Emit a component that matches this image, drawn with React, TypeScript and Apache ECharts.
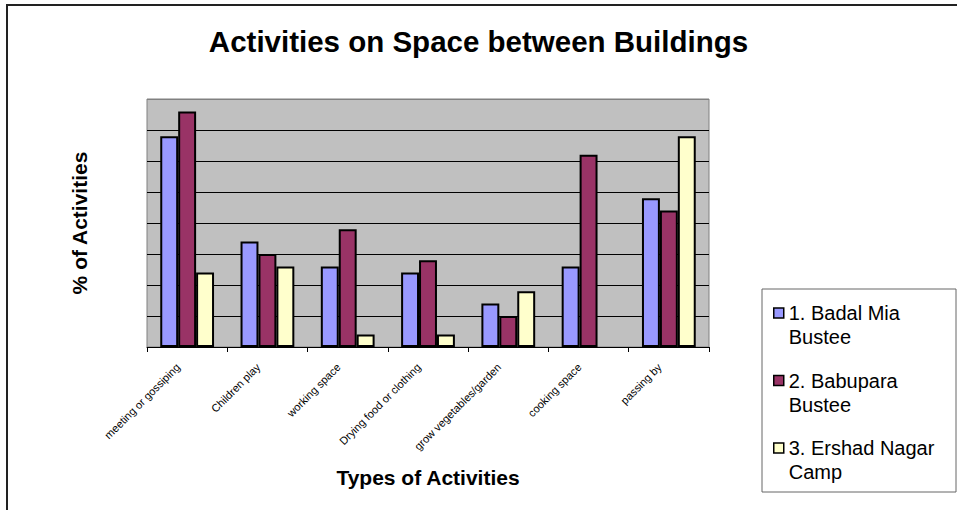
import React, { useEffect, useRef } from "react";
import * as echarts from "echarts";

const categories = [
  "meeting or gossiping",
  "Children play",
  "working space",
  "Drying food or clothing",
  "grow vegetables/garden",
  "cooking space",
  "passing by",
];
const seriesNames = ["1. Badal Mia Bustee", "2. Babupara Bustee", "3. Ershad Nagar Camp"];
const badalMia = [34, 17, 13, 12, 7, 13, 24];
const babupara = [38, 15, 19, 14, 5, 31, 22];
const ershadNagar = [12, 13, 2, 2, 9, 0, 34];
const seriesColors = ["#9999FF", "#993366", "#FFFFCC"];

const FONT = '"Liberation Sans", Arial, sans-serif';

export default function App() {
  const ref = useRef<HTMLDivElement>(null);
  useEffect(() => {
    if (!ref.current) return;
    const chart = echarts.init(ref.current, undefined, { renderer: "svg" });
    const values = [badalMia, babupara, ershadNagar];
    chart.setOption({
      animation: false,
      backgroundColor: "#ffffff",
      textStyle: { fontFamily: FONT },
      title: {
        text: "Activities on Space between Buildings",
        left: "center",
        top: 26,
        padding: 0,
        textStyle: { fontFamily: FONT, fontSize: 29.5, fontWeight: "bold", color: "#000" },
      },
      grid: {
        left: 147,
        top: 99,
        right: 248,
        bottom: 163,
        show: true,
        backgroundColor: "#C0C0C0",
        borderColor: "#808080",
        borderWidth: 1,
      },
      legend: {
        orient: "vertical",
        left: 773,
        top: 277,
        padding: 0,
        itemWidth: 10,
        itemHeight: 10,
        itemGap: -4.5,
        icon: "rect",
        selectedMode: false,
        itemStyle: { borderColor: "#000", borderWidth: 1.5 },
        formatter: (name: string) => "\n" + name.replace(/ (\S+)$/, "\n$1"),
        textStyle: {
          fontFamily: FONT,
          fontSize: 20,
          lineHeight: 24,
          color: "#000",
        },
        z: 5,
      },
      xAxis: {
        type: "category",
        data: categories,
        name: "Types of Activities",
        nameLocation: "middle",
        nameGap: 120,
        nameTextStyle: { fontFamily: FONT, fontSize: 21, fontWeight: "bold", color: "#000" },
        axisLine: { lineStyle: { color: "#000", width: 1 } },
        axisTick: { show: true, length: 5, lineStyle: { color: "#000" } },
        axisLabel: {
          rotate: 45,
          interval: 0,
          margin: 9,
          padding: [0, 13, 0, 0],
          fontSize: 11,
          fontFamily: FONT,
          color: "#000",
        },
      },
      yAxis: {
        type: "value",
        min: 0,
        max: 40,
        interval: 5,
        name: "% of Activities",
        nameLocation: "middle",
        nameRotate: 90,
        nameGap: 57,
        nameTextStyle: { fontFamily: FONT, fontSize: 21, fontWeight: "bold", color: "#000" },
        axisLine: { show: false },
        axisTick: { show: false },
        axisLabel: { show: false },
        splitLine: {
          show: true,
          lineStyle: {
            color: ["#000", "#000", "#000", "#000", "#000", "#000", "#000", "#000", "#808080"],
            width: 1,
          },
        },
      },
      graphic: [
        {
          type: "rect",
          z: 1,
          shape: { x: 762, y: 289, width: 194, height: 203 },
          style: { fill: "#fff", stroke: "#666", lineWidth: 1 },
        },
        {
          type: "line",
          z: 1,
          shape: { x1: 6, y1: 5, x2: 957, y2: 5 },
          style: { stroke: "#222", lineWidth: 2 },
        },
        {
          type: "line",
          z: 1,
          shape: { x1: 7, y1: 4, x2: 7, y2: 510 },
          style: { stroke: "#222", lineWidth: 2 },
        },
      ],
      series: seriesNames.map((name, i) => ({
        name,
        type: "bar",
        barGap: "0%",
        barCategoryGap: "33%",
        data: values[i].map((v) => (v === 0 ? "-" : v)),
        itemStyle: { color: seriesColors[i], borderColor: "#000", borderWidth: 2 },
      })),
    });
    return () => chart.dispose();
  }, []);
  return (
    <div
      ref={ref}
      style={{ position: "absolute", left: 0, top: 0, width: 957, height: 510 }}
    />
  );
}
